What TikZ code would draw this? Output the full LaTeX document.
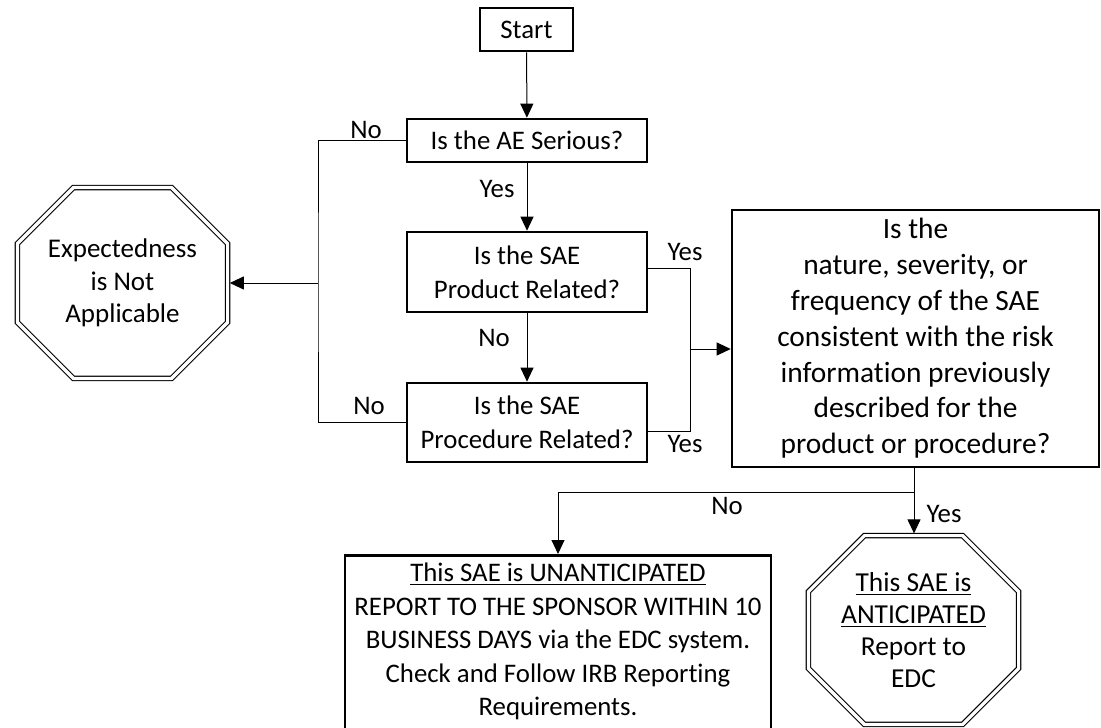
\documentclass[tikz,border=0pt]{standalone}
\usepackage{fontspec}
\setmainfont{Carlito}[Ligatures=NoCommon]
\usetikzlibrary{arrows.meta}

\begin{document}
\begin{tikzpicture}[x=0.5pt,y=-0.5pt]
  \tikzstyle{every node}=[font=\fontsize{13.4}{17}\selectfont]
  \tikzstyle{box}=[draw,line width=1.3pt,align=center,inner sep=0pt]
  \tikzstyle{stopsign}=[minimum width=104.7pt,minimum height=95pt,
    align=center,inner sep=0pt,font=\fontsize{13.5}{16.3}\selectfont]
  \tikzstyle{stopline}=[draw,double,double distance=1.6pt,line width=0.6pt]
  \tikzstyle{link}=[line width=0.5pt]
  \tikzstyle{arrow}=[link,-{Triangle[length=7pt,width=6.5pt]}]
  \useasboundingbox (0,0) rectangle (1101,727);
  \clip (0,0) rectangle (1101,727);

  \node[box,minimum width=46.5pt,minimum height=21.5pt] (start) at (526.5,29.5) {Start};
  \node[box,minimum width=120pt,minimum height=21.5pt] (serious) at (527,140.5) {Is the AE Serious?};
  \node[box,minimum width=120pt,minimum height=40pt] (product) at (527,272) {Is the SAE\\Product Related?};
  \node[box,minimum width=120pt,minimum height=39.5pt] (procedure) at (527,422.5) {Is the SAE\\Procedure Related?};
  \node[box,minimum width=183.5pt,minimum height=128.5pt,font=\fontsize{14.7}{17.9}\selectfont]
    (question) at (915.5,338.5) {Is the\\nature, severity, or\\frequency of the SAE\\consistent with the risk\\information previously\\described for the\\product or procedure?};
  \node[stopsign] (notapp) at (122.5,283) {Expectedness\\is Not\\Applicable};
  \node[stopsign,minimum height=94pt,font=\fontsize{13.7}{16}\selectfont] (anticip) at (913.5,630)
    {\underline{This SAE is}\\\underline{ANTICIPATED}\\Report to\\EDC};
  \node[box,anchor=north,minimum width=213pt,minimum height=93pt,font=\fontsize{13.4}{16.75}\selectfont]
    (unant) at (558,554) {\underline{This SAE is UNANTICIPATED}\\REPORT TO THE SPONSOR WITHIN 10\\BUSINESS DAYS via the EDC system.\\Check and Follow IRB Reporting\\Requirements.\\[-8pt]\mbox{}};

  % double-lined octagons round the two end nodes
  \foreach \n in {notapp,anticip}
    \path[stopline] ([xshift=28pt]\n.north west) -- ([xshift=-28pt]\n.north east)
      -- ([yshift=-28pt]\n.north east) -- ([yshift=28pt]\n.south east)
      -- ([xshift=-28pt]\n.south east) -- ([xshift=28pt]\n.south west)
      -- ([yshift=28pt]\n.south west) -- ([yshift=-28pt]\n.north west) -- cycle;

  \coordinate (busL) at (318,283);
  \coordinate (busR) at (690,349);
  \coordinate (split) at (914,492);

  \draw[arrow] (start) -- (serious);
  \draw[arrow] (serious) -- (product);
  \draw[arrow] (product) -- (procedure);
  \draw[link] (serious.west) -| (busL) |- (procedure.west);
  \draw[arrow,shorten >=1.1pt] (busL) -- (notapp.east);
  \draw[link] ([yshift=2pt]product.east) -| (busR) |- ([yshift=-4.25pt]procedure.east);
  \draw[arrow] (busR) -- (busR -| question.west);
  \draw[link] (question.south -| split) -- (split);
  \draw[arrow] (split) -| (unant.north);
  \draw[arrow,shorten >=1.1pt] (split) -- (split |- anticip.north);

  \node (noSerious) at (366,130) {No};
  \node (yesSerious) at (497,189) {Yes};
  \node (noProduct) at (494,338) {No};
  \node (yesProduct) at (685,252) {Yes};
  \node (yesProcedure) at (685,444) {Yes};
  \node (noProcedure) at (369,406) {No};
  \node (noConsistent) at (727,506) {No};
  \node (yesConsistent) at (944,514) {Yes};
\end{tikzpicture}
\end{document}
